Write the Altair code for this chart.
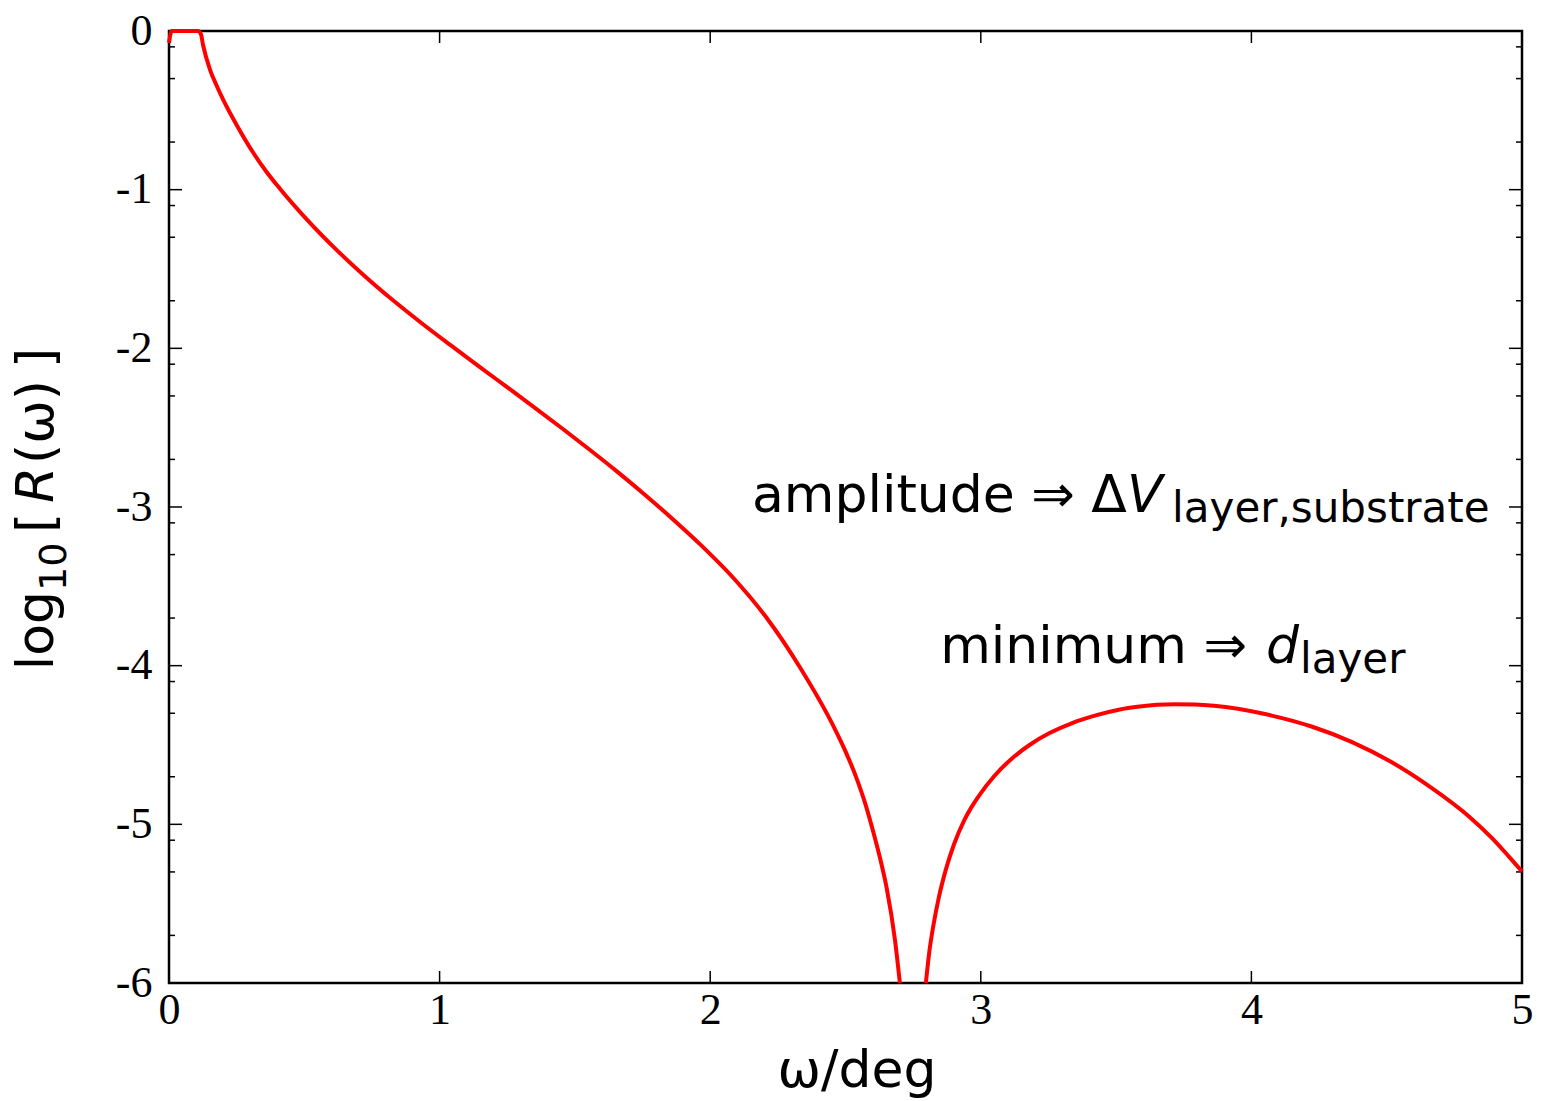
import altair as alt
import pandas as pd

# ---------------- data ----------------
omega_left = [0.000, 0.010, 0.107, 0.118, 0.126, 0.152, 0.175, 0.201, 0.250, 0.312,
              0.360, 0.410, 0.509, 0.620, 0.730, 0.829, 0.928, 1.038, 1.149, 1.248,
              1.346, 1.457, 1.556, 1.654, 1.765, 1.864, 1.962, 2.085, 2.209, 2.332,
              2.455, 2.500, 2.541, 2.575, 2.603, 2.630, 2.652, 2.683, 2.701]
logR_left = [-0.075, 0.000, 0.000, -0.020, -0.090, -0.246, -0.340, -0.435, -0.592, -0.769,
             -0.887, -0.994, -1.187, -1.381, -1.555, -1.699, -1.834, -1.977, -2.118, -2.243,
             -2.367, -2.510, -2.641, -2.774, -2.932, -3.080, -3.234, -3.446, -3.700, -4.012,
             -4.380, -4.540, -4.710, -4.880, -5.050, -5.230, -5.400, -5.730, -6.000]

omega_right = [2.797, 2.810, 2.825, 2.845, 2.870, 2.900, 2.940, 2.965, 2.993, 3.050,
               3.109, 3.180, 3.254, 3.340, 3.428, 3.510, 3.587, 3.650, 3.717, 3.790,
               3.862, 4.050, 4.225, 4.370, 4.514, 4.659, 4.804, 4.891, 4.950, 5.000]
logR_right = [-6.000, -5.800, -5.635, -5.460, -5.290, -5.130, -4.970, -4.893, -4.820, -4.695,
              -4.594, -4.500, -4.425, -4.360, -4.312, -4.278, -4.258, -4.247, -4.243, -4.245,
              -4.253, -4.305, -4.385, -4.480, -4.604, -4.762, -4.950, -5.090, -5.200, -5.297]

x_major = [0, 1, 2, 3, 4, 5]
y_major = [0, -1, -2, -3, -4, -5, -6]
y_minor = [-0.1, -0.3, -0.7, -1.1, -1.3, -1.7, -2.1, -2.3, -2.7,
           -3.1, -3.3, -3.7, -4.1, -4.3, -4.7, -5.1, -5.3, -5.7]

# annotation anchors (data coordinates)
ann_main_text = ["amplitude \u21d2 \u0394", "minimum \u21d2"]
ann_main_x = [3.540, 3.984]
ann_main_y = [-3.031, -3.982]
ann_ital_text = ["V", "d"]
ann_ital_x = [3.540, 4.054]
ann_ital_y = [-3.031, -3.982]
ann_sub_text = ["layer,substrate", "layer"]
ann_sub_x = [3.707, 4.180]
ann_sub_y = [-3.094, -4.045]

# ---------------- build ----------------
W, H = 1353, 952
SANS = "DejaVu Sans"
SERIF = "Liberation Serif"

curve = pd.concat([
    pd.DataFrame({"omega": omega_left, "logR": logR_left, "branch": "a"}),
    pd.DataFrame({"omega": omega_right, "logR": logR_right, "branch": "b"}),
])

xs = alt.Scale(domain=[0, 5], nice=False, zero=False)
ys = alt.Scale(domain=[-6, 0], nice=False, zero=False)

line = alt.Chart(curve).mark_line(
    color="#ff0000", strokeWidth=4, interpolate="monotone"
).encode(
    x=alt.X("omega:Q", scale=xs, axis=alt.Axis(
        values=x_major, title=None, domain=False, ticks=False, grid=False,
        labelFont=SERIF, labelFontSize=44, labelPadding=5, labelFlush=False,
        labelColor="black", labelExpr="format(datum.value, 'd')")),
    y=alt.Y("logR:Q", scale=ys, axis=alt.Axis(
        values=y_major, title=None, domain=False, ticks=False, grid=False,
        labelFont=SERIF, labelFontSize=44, labelPadding=17, labelFlush=False,
        labelColor="black", labelBaseline="middle",
        labelExpr="datum.value < 0 ? '-' + format(-datum.value, 'd') : '0'")),
    detail="branch:N",
)


def yticks(vals, x0, x1):
    return alt.Chart(pd.DataFrame({"logR": vals})).mark_rule(
        color="black", strokeWidth=1.5
    ).encode(y=alt.Y("logR:Q", scale=ys), x=alt.value(x0), x2=alt.value(x1))


def xticks(vals, y0, y1):
    return alt.Chart(pd.DataFrame({"omega": vals})).mark_rule(
        color="black", strokeWidth=1.5
    ).encode(x=alt.X("omega:Q", scale=xs), y=alt.value(y0), y2=alt.value(y1))


ticks = [
    yticks(y_major, 0, 13), yticks(y_major, W - 13, W),
    yticks(y_minor, 0, 6), yticks(y_minor, W - 6, W),
    xticks(x_major, H, H - 12), xticks(x_major, 0, 12),
]


def ann(texts, xv, yv, size, style, align):
    df = pd.DataFrame({"omega": xv, "logR": yv, "t": texts})
    return alt.Chart(df).mark_text(
        font=SANS, fontSize=size, fontStyle=style, align=align,
        baseline="alphabetic", color="black"
    ).encode(x=alt.X("omega:Q", scale=xs), y=alt.Y("logR:Q", scale=ys), text="t:N")


anns = [
    ann(ann_main_text, ann_main_x, ann_main_y, 52, "normal", "right"),
    ann(ann_ital_text, ann_ital_x, ann_ital_y, 52, "italic", "left"),
    ann(ann_sub_text, ann_sub_x, ann_sub_y, 42, "normal", "left"),
]


def label(text, x, y, size, align="left", angle=0, style="normal"):
    return alt.Chart(alt.Data(values=[{"t": text}])).mark_text(
        font=SANS, fontSize=size, fontStyle=style, align=align, angle=angle,
        baseline="alphabetic", color="black"
    ).encode(x=alt.value(x), y=alt.value(y), text="t:N")


titles = [
    label("\u03c9/deg", 688, 1056, 52, align="center"),
    # y title, rotated, pieces from bottom to top
    label("log", -116, 591 - 31, 52, align="right", angle=270),
    label("10", -103, 591 - 31, 38, align="left", angle=270),
    label("[", -116, 533 - 31, 52, align="left", angle=270),
    label("R", -116, 503 - 31, 52, align="left", angle=270, style="italic"),
    label("(\u03c9)", -116, 464 - 31, 52, align="left", angle=270),
    label("]", -116, 368 - 31, 52, align="left", angle=270),
]

chart = alt.layer(*ticks, line, *anns, *titles).properties(
    width=W, height=H,
    padding={"left": 169, "top": 31, "right": 20, "bottom": 118},
    autosize=alt.AutoSizeParams(type="none"),
    background="white",
).configure_view(stroke="black", strokeWidth=2.5)

chart.save("out.html", embed_options={"renderer": "svg", "actions": False})
